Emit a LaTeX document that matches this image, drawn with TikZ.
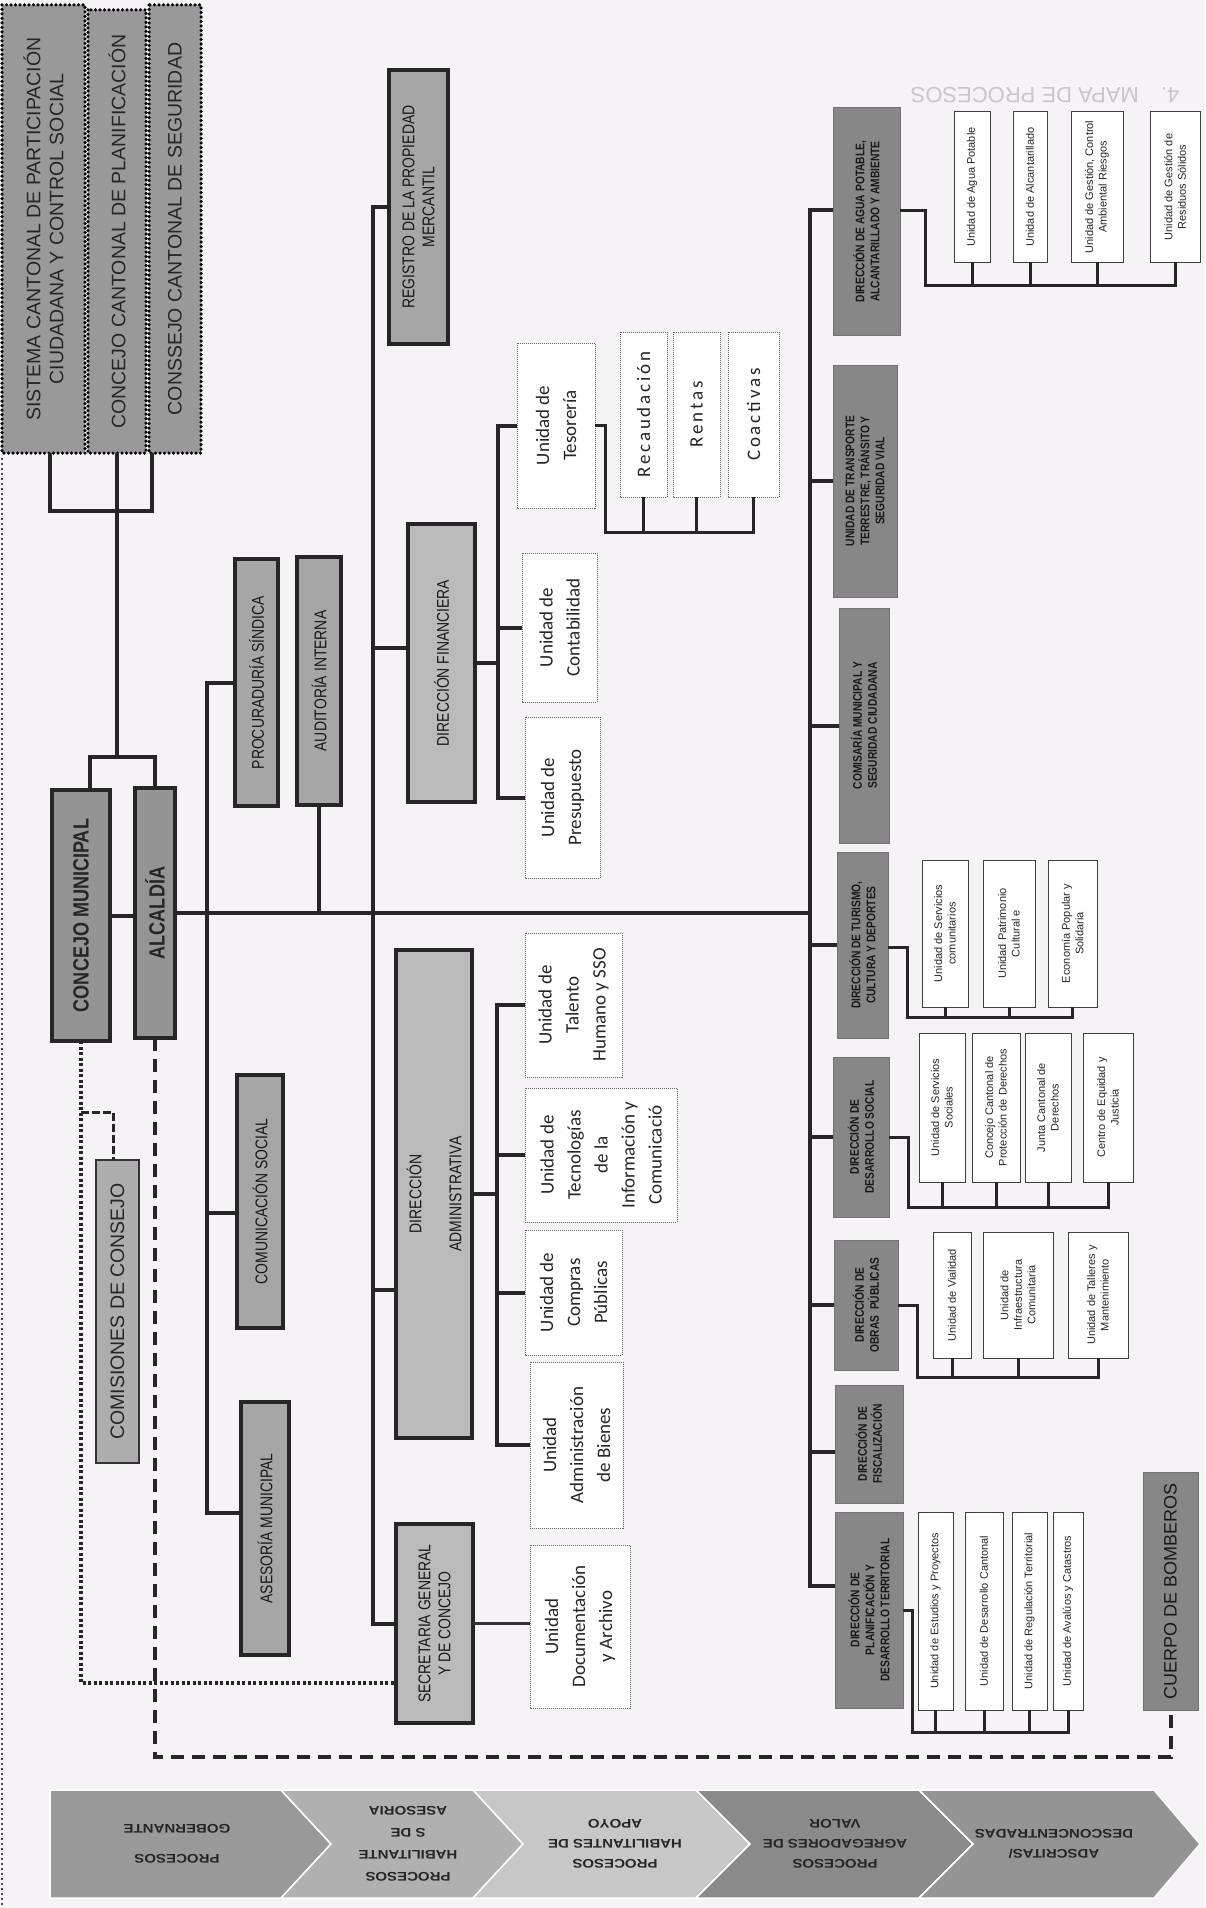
\documentclass[tikz,border=0pt]{standalone}
\usepackage{fontspec}
\setmainfont{Liberation Sans}
\newfontfamily\narrowfont[FakeStretch=0.82]{Liberation Sans}
\newfontfamily\widefont[FakeStretch=1.2]{Liberation Sans}
\newfontfamily\unitfont{Carlito}
\newfontfamily\spacedfont[LetterSpace=15]{Carlito}
\definecolor{paper}{HTML}{F6F3F6}

\begin{document}
\begin{tikzpicture}[x=1pt,y=-1pt,
rbox/.style 2 args={rotate=90,minimum width=#2,minimum height=#1,inner sep=1pt,outer sep=0pt,align=center},
cantonal/.style={fill=black!40,draw=black,line width=3.5pt,dash pattern=on 0pt off 4.5pt,line cap=round,font=\fontsize{19.5}{23}\selectfont,text=black!85},
mainbox/.style={fill=black!42,draw=black!85,line width=4.5pt,font=\narrowfont\bfseries\fontsize{22}{26}\selectfont,text=black!85},
staffbox/.style={fill=black!35,draw=black!85,line width=4.5pt,font=\narrowfont\fontsize{17}{20}\selectfont,text=black!90},
dirbox/.style={staffbox,fill=black!27},
comision/.style={fill=black!32,draw=black!80,line width=1.5pt,font=\fontsize{19.5}{23}\selectfont,text=black!85},
opbox/.style={fill=black!47,draw=black!55,line width=1pt,font=\narrowfont\bfseries\fontsize{12.5}{15}\selectfont,text=black!90},
bombero/.style={opbox,font=\fontsize{18}{21}\selectfont},
unitbox/.style={fill=white,draw=black!60,densely dotted,line width=1pt,font=\unitfont\fontsize{19}{27}\selectfont,align=left,text=black!85},
spaced/.style={font=\spacedfont\fontsize{19}{23}\selectfont},
subunit/.style={fill=white,draw=black!75,line width=1pt,font=\fontsize{11}{13.5}\selectfont,text=black!85},
conn/.style={draw=black!85,line width=4pt},
subconn/.style={draw=black!85,line width=3pt},
thinconn/.style={draw=black!80,line width=2.5pt},
sqdots/.style={draw=black!85,line width=4pt,dash pattern=on 3pt off 2.5pt},
comdash/.style={draw=black!85,line width=3pt,dash pattern=on 8pt off 3pt},
bigdash/.style={draw=black!85,line width=4pt,dash pattern=on 13pt off 8pt},
proctext/.style={rotate=180,align=center,font=\widefont\bfseries\fontsize{12.5}{20}\selectfont,text=black!85},
ghost/.style={rotate=180,text=black!22,font=\fontsize{22}{26}\selectfont},
scanedge/.style={draw=black!70,line width=2pt,dash pattern=on 2pt off 3pt}]
\fill[paper] (0,0) rectangle (1205,1908);
\useasboundingbox (0,0) rectangle (1205,1908);
\draw[scanedge] (2,458) -- (2,1908);
\node[ghost] (mapa) at (1045,95) {4.\quad MAPA DE PROCESOS};

% gobierno
\node[cantonal,rbox={83}{448}] (sis) at (43.5,229) {SISTEMA CANTONAL DE PARTICIPACIÓN\\CIUDADANA Y CONTROL SOCIAL};
\node[cantonal,rbox={58}{443}] (ccp) at (117,231.5) {CONCEJO CANTONAL DE PLANIFICACIÓN};
\node[cantonal,rbox={52}{448}] (ccs) at (175,229) {CONSSEJO CANTONAL DE SEGURIDAD};
\node[mainbox,rbox={58}{251}] (cm) at (81,915.5) {CONCEJO MUNICIPAL};
\node[mainbox,rbox={40}{250}] (alc) at (155,913) {ALCALDÍA};
\node[comision,rbox={43}{303}] (com) at (117.5,1311.5) {COMISIONES DE CONSEJO};

% asesoria y apoyo
\node[staffbox,rbox={43}{247}] (pro) at (256.5,682.5) {PROCURADURÍA SÍNDICA};
\node[staffbox,rbox={44}{248}] (aud) at (319,681) {AUDITORÍA INTERNA};
\node[staffbox,rbox={46}{253}] (cso) at (260,1201.5) {COMUNICACIÓN SOCIAL};
\node[staffbox,rbox={48}{253}] (ase) at (265,1528.5) {ASESORÍA MUNICIPAL};
\node[staffbox,rbox={59}{274}] (reg) at (418.5,207) {REGISTRO DE LA PROPIEDAD\\MERCANTIL};
\node[dirbox,rbox={67}{278}] (fin) at (441.5,663) {DIRECCIÓN FINANCIERA};
\node[dirbox,rbox={76}{488}] (adm) at (434,1194) {DIRECCIÓN\\[20pt]ADMINISTRATIVA};
\node[dirbox,rbox={77}{199}] (sec) at (434.5,1623.5) {SECRETARIA GENERAL\\Y DE CONCEJO};

\node[unitbox,rbox={78}{165}] (tes) at (556,425.5) {Unidad de\\Tesorería};
\node[unitbox,rbox={75}{149}] (cont) at (559.5,627.5) {Unidad de\\Contabilidad};
\node[unitbox,rbox={75}{161}] (pres) at (562.5,797.5) {Unidad de\\Presupuesto};
\node[unitbox,spaced,rbox={47}{165}] (rec) at (643.5,414.5) {Recaudación};
\node[unitbox,spaced,rbox={47}{165}] (ren) at (696.5,414.5) {Rentas};
\node[unitbox,spaced,rbox={51}{165}] (coa) at (753.5,414.5) {Coactivas};
\node[unitbox,rbox={97}{144}] (tal) at (573.5,1005) {Unidad de\\Talento\\Humano y SSO};
\node[unitbox,rbox={152}{134}] (tec) at (601,1155) {Unidad de\\Tecnologías\\de la\\Información y\\Comunicació};
\node[unitbox,rbox={97}{125}] (cpu) at (573.5,1292.5) {Unidad de\\Compras\\Públicas};
\node[unitbox,rbox={93}{166}] (bie) at (576.5,1445) {Unidad\\Administración\\de Bienes};
\node[unitbox,rbox={100}{163}] (doc) at (580,1626.5) {Unidad\\Documentación\\y Archivo};

% agregadores de valor
\node[opbox,rbox={67}{227}] (agua) at (866.5,221.5) {DIRECCIÓN DE AGUA POTABLE,\\ALCANTARILLADO Y AMBIENTE};
\node[opbox,rbox={64}{232}] (tra) at (865,481) {UNIDAD DE TRANSPORTE\\TERRESTRE, TRÁNSITO Y\\SEGURIDAD VIAL};
\node[opbox,rbox={50}{235}] (comi) at (864,725.5) {COMISARÍA MUNICIPAL Y\\SEGURIDAD CIUDADANA};
\node[opbox,rbox={51}{186}] (tur) at (862.5,945) {DIRECCIÓN DE TURISMO,\\CULTURA Y DEPORTES};
\node[opbox,rbox={56}{160}] (soc) at (861,1137) {DIRECCIÓN DE\\DESARROLLO SOCIAL};
\node[opbox,rbox={64}{130}] (obr) at (866,1305) {DIRECCIÓN DE\\OBRAS \ PÚBLICAS};
\node[opbox,rbox={68}{118}] (fis) at (869,1444) {DIRECCIÓN DE\\FISCALIZACIÓN};
\node[opbox,rbox={68}{196}] (pla) at (869,1610) {DIRECCIÓN DE\\PLANIFICACIÓN Y\\DESARROLLO TERRITORIAL};
\node[bombero,rbox={55}{238}] (bom) at (1170.5,1591) {CUERPO DE BOMBEROS};

\node[subunit,rbox={36}{150}] (ua1) at (972,187) {Unidad de Agua Potable};
\node[subunit,rbox={34}{150}] (ua2) at (1030,187) {Unidad de Alcantarillado};
\node[subunit,rbox={52}{150}] (ua3) at (1097,187) {Unidad de Gestión, Control\\Ambiental Riesgos};
\node[subunit,rbox={50}{150}] (ua4) at (1175,187) {Unidad de Gestión de\\Residuos Sólidos};
\node[subunit,rbox={46}{147}] (ut1) at (945,933.5) {Unidad de Servicios\\comunitarios};
\node[subunit,rbox={52}{147}] (ut2) at (1009,933.5) {Unidad Patrimonio\\Cultural e};
\node[subunit,rbox={49}{147}] (ut3) at (1072.5,933.5) {Economía Popular y\\Solidaria};
\node[subunit,rbox={46}{149}] (us1) at (942,1107.5) {Unidad de Servicios\\Sociales};
\node[subunit,rbox={48}{149}] (us2) at (996,1107.5) {Concejo Cantonal de\\Protección de Derechos};
\node[subunit,rbox={46}{149}] (us3) at (1048,1107.5) {Junta Cantonal de\\Derechos};
\node[subunit,rbox={50}{149}] (us4) at (1108,1107.5) {Centro de Equidad y\\Justicia};
\node[subunit,rbox={38}{126}] (uo1) at (952,1295) {Unidad de Vialidad};
\node[subunit,rbox={70}{126}] (uo2) at (1018,1295) {Unidad de\\Infraestructura\\Comunitaria};
\node[subunit,rbox={60}{126}] (uo3) at (1098,1295) {Unidad de Talleres y\\Mantenimiento};
\node[subunit,rbox={35}{198}] (up1) at (935.5,1611) {Unidad de Estudios y Proyectos};
\node[subunit,rbox={38}{198}] (up2) at (984,1611) {Unidad de Desarrollo Cantonal};
\node[subunit,rbox={35}{198}] (up3) at (1029.5,1611) {Unidad de Regulación Territorial};
\node[subunit,rbox={30}{198}] (up4) at (1068,1611) {Unidad de Avalúos y Catastros};

% lineas
\coordinate (tg2) at (152,511);
\coordinate (tg3) at (117,757);
\coordinate (sp1b) at (207,1513);
\coordinate (sp2b) at (373,1623.5);
\coordinate (sp3t) at (810,210);
\coordinate (sp3b) at (810,1586);
\coordinate (fv) at (498,425.5);
\coordinate (tv) at (605,532);
\coordinate (av) at (497,1005);
\coordinate (ab) at (925,285);
\coordinate (tb) at (907,1017);
\coordinate (sb) at (908,1207);
\coordinate (ob) at (917,1377);
\coordinate (pb) at (912,1732);
\coordinate (ck) at (81,1112);
\coordinate (dk) at (81,1683);
\coordinate (ak) at (155,1757);

\draw[conn] ([xshift=6.5pt]sis.west) |- (tg2) -- ([xshift=-23pt]ccs.west);
\draw[conn] (ccp.west) -- (tg3);
\draw[conn] ([xshift=9pt]cm.east) |- (tg3) -| (alc.east);
\draw[conn] (cm.south) -- (cm.south -| alc.north);
\draw[conn] (alc.south) -- (alc.south -| sp3t);

\draw[conn] (pro.north) -| (sp1b) -- ([yshift=15.5pt]ase.north);
\draw[conn] ([yshift=-11.5pt]cso.north) -| (sp1b);
\draw[conn] (aud.west) -- (aud.west |- alc.south);

\draw[conn] (reg.north) -| (sp2b) -- (sec.north);
\draw[conn] ([yshift=15pt]fin.north) -| (sp2b);
\draw[conn] ([yshift=-96pt]adm.north) -| (sp2b);

\draw[conn] (fin.south) -| (fv) -- (tes.north);
\draw[conn] (pres.north) -| (fv);
\draw[conn] (cont.north) -- (cont.north -| fv);
\draw[subconn] (tes.south) -| (tv) -| (coa.west);
\draw[subconn] (rec.west) -- (rec.west |- tv);
\draw[subconn] (ren.west) -- (ren.west |- tv);

\draw[conn] (adm.south) -| (av) -- (tal.north);
\draw[conn] (bie.north) -| (av);
\draw[conn] (tec.north) -- (tec.north -| av);
\draw[conn] (cpu.north) -- (cpu.north -| av);
\draw[thinconn] (sec.south) -- (sec.south -| doc.north);

\draw[conn] ([yshift=11.5pt]agua.north) -| (sp3b) -- ([yshift=24pt]pla.north);
\draw[conn] (tra.north) -| (sp3t);
\draw[conn] (comi.north) -| (sp3t);
\draw[conn] (tur.north) -| (sp3t);
\draw[conn] (soc.north) -| (sp3t);
\draw[conn] (obr.north) -| (sp3t);
\draw[conn] ([yshift=-8pt]fis.north) -| (sp3t);

\draw[subconn] ([yshift=11.5pt]agua.south) -| (ab) -| (ua4.west);
\draw[subconn] (ua1.west) -- (ua1.west |- ab);
\draw[subconn] (ua2.west) -- (ua2.west |- ab);
\draw[subconn] (ua3.west) -- (ua3.west |- ab);
\draw[subconn] ([yshift=-2pt]tur.south) -| (tb) -| (ut3.west);
\draw[subconn] (ut1.west) -- (ut1.west |- tb);
\draw[subconn] (ut2.west) -- (ut2.west |- tb);
\draw[subconn] (soc.south) -| (sb) -| (us4.west);
\draw[subconn] (us1.west) -- (us1.west |- sb);
\draw[subconn] (us2.west) -- (us2.west |- sb);
\draw[subconn] (us3.west) -- (us3.west |- sb);
\draw[subconn] (obr.south) -| (ob) -| (uo3.west);
\draw[subconn] (uo1.west) -- (uo1.west |- ob);
\draw[subconn] (uo2.west) -- (uo2.west |- ob);
\draw[subconn] (pla.south) -| (pb) -| (up4.west);
\draw[subconn] (up1.west) -- (up1.west |- pb);
\draw[subconn] (up2.west) -- (up2.west |- pb);
\draw[subconn] (up3.west) -- (up3.west |- pb);

\draw[sqdots] (cm.west) -- (dk) -- ([yshift=-59.5pt]sec.north);
\draw[comdash] (ck) -| ([xshift=-4pt]com.east);
\draw[bigdash] (alc.west) -- (ak) -| (bom.west);

% procesos
\foreach \a/\b/\c/\d/\g in {50/50/281/331/40,281/331/473/523/31,473/523/696/750/22,696/750/919/973/46,919/973/1154/1200/42}
  \filldraw[draw=white,line width=1.5pt,fill=black!\g] (\a,1790) -- (\c,1790) -- (\d,1844) -- (\c,1898) -- (\a,1898) -- (\b,1844) -- cycle;
\node[proctext] (p1) at (177,1844) {PROCESOS\\[10pt]GOBERNANTE};
\node[proctext,font=\widefont\bfseries\fontsize{12.5}{22}\selectfont] (p2) at (408,1844) {PROCESOS\\HABILITANTE\\S DE\\ASESORIA};
\node[proctext] (p3) at (615,1844) {PROCESOS\\HABILITANTES DE\\APOYO};
\node[proctext] (p4) at (835,1844) {PROCESOS\\AGREGADORES DE\\VALOR};
\node[proctext] (p5) at (1054,1844) {ADSCRITAS/\\DESCONCENTRADAS};
\end{tikzpicture}
\end{document}
